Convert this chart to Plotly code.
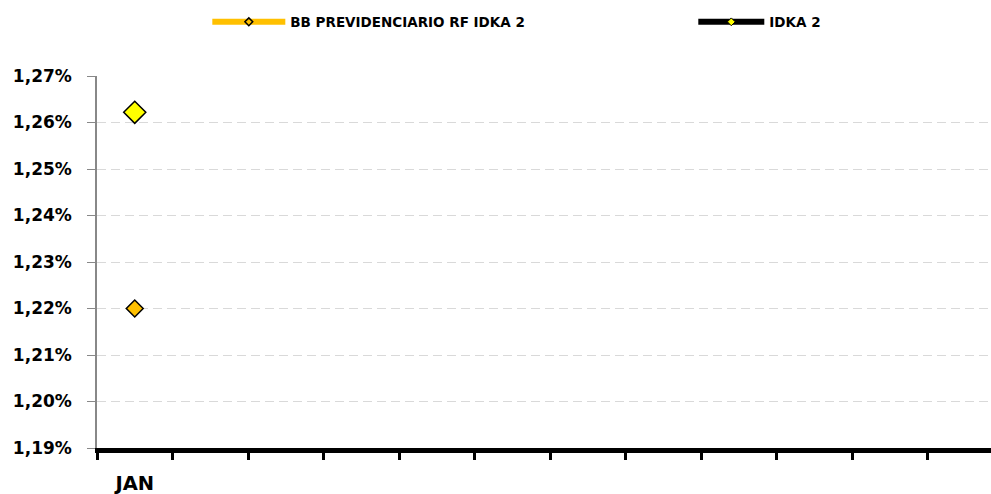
import plotly.graph_objects as go

months = ["JAN", "FEV", "MAR", "ABR", "MAI", "JUN", "JUL", "AGO", "SET", "OUT", "NOV", "DEZ"]
month_labels = ["JAN", "", "", "", "", "", "", "", "", "", "", ""]
bb_values = [1.22]
idka_values = [1.2622]
y_ticks = [1.19, 1.20, 1.21, 1.22, 1.23, 1.24, 1.25, 1.26, 1.27]
y_tick_labels = ["1,19%", "1,20%", "1,21%", "1,22%", "1,23%", "1,24%", "1,25%", "1,26%", "1,27%"]

FONT = "DejaVu Sans"

fig = go.Figure()

# data traces
fig.add_trace(go.Scatter(
    x=months[:len(bb_values)], y=bb_values, mode="lines+markers",
    name="BB PREVIDENCIARIO RF IDKA 2", showlegend=False,
    line=dict(color="#FFC000", width=6),
    marker=dict(symbol="diamond", size=13, color="#FFC000", line=dict(color="black", width=1.5)),
))
fig.add_trace(go.Scatter(
    x=months[:len(idka_values)], y=idka_values, mode="lines+markers",
    name="IDKA 2", showlegend=False,
    line=dict(color="black", width=6),
    marker=dict(symbol="diamond", size=17, color="#FFFF00", line=dict(color="black", width=1.5)),
))
# legend entries
fig.add_trace(go.Scatter(
    x=[None], y=[None], mode="lines+markers", name="BB PREVIDENCIARIO RF IDKA 2",
    line=dict(color="#FFC000", width=6), legend="legend",
    marker=dict(symbol="diamond", size=6, color="#FFC000", line=dict(color="black", width=1.5)),
))
fig.add_trace(go.Scatter(
    x=[None], y=[None], mode="lines+markers", name="IDKA 2",
    line=dict(color="black", width=6), legend="legend2",
    marker=dict(symbol="diamond", size=6, color="#FFFF00", line=dict(color="black", width=1)),
))

legend_font = dict(family=FONT, size=13.5, color="black", weight="bold")

fig.update_layout(
    width=991, height=494,
    margin=dict(l=97, r=0, t=76, b=46, autoexpand=False),
    paper_bgcolor="white", plot_bgcolor="white",
    font=dict(family=FONT, color="black"),
    legend=dict(
        orientation="h", x=0.1234, xanchor="left", y=1.145, yanchor="middle",
        font=legend_font, itemwidth=73, bgcolor="rgba(0,0,0,0)",
    ),
    legend2=dict(
        orientation="h", x=0.667, xanchor="left", y=1.145, yanchor="middle",
        font=legend_font, itemwidth=66, bgcolor="rgba(0,0,0,0)",
    ),
    xaxis=dict(
        type="category", categoryorder="array", categoryarray=months,
        tickmode="array", tickvals=months, ticktext=month_labels,
        tickson="boundaries", range=[-0.5, 11.34],
        showline=True, linecolor="black", linewidth=5,
        ticks="outside", ticklen=7, tickwidth=3, tickcolor="black",
        showgrid=False, zeroline=False, automargin=False,
        ticklabelstandoff=14,
        tickfont=dict(family=FONT, size=19.5, color="black", weight="bold"),
    ),
    yaxis=dict(
        range=[1.19, 1.27], tickmode="array", tickvals=y_ticks, ticktext=y_tick_labels,
        showline=True, linecolor="#888888", linewidth=1.5,
        ticks="outside", ticklen=8, tickwidth=1, tickcolor="#888888",
        showgrid=True, gridcolor="#D9D9D9", griddash="9px,5px", gridwidth=1,
        zeroline=False, automargin=False,
        ticklabelstandoff=12,
        tickfont=dict(family=FONT, size=17, color="black", weight="bold"),
    ),
)

fig.write_html(
    "out.html",
    config={"displayModeBar": False},
    post_script="document.body.style.margin='0';document.body.style.overflow='hidden';",
)
